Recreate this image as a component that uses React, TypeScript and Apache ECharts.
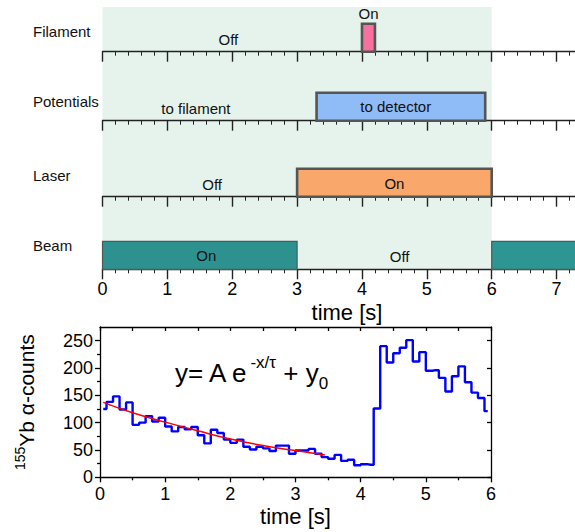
import React, { useEffect, useRef } from "react";
import * as echarts from "echarts";

const FONT = "'Liberation Sans', Arial, Helvetica, sans-serif";

// ---- Timing diagram data ----
const rowNames = ["Filament", "Potentials", "Laser", "Beam"];

const barRow = [0, 1, 2, 3, 3];
const barStart = [4.0, 3.3, 3.0, 0.0, 6.0];
const barEnd = [4.2, 5.9, 6.0, 3.0, 7.4];
const barColors = ["#f7709f", "#8fbbf6", "#f9a76b", "#2d928f", "#2d9693"];

const stateRow = [0, 0, 1, 1, 2, 2, 3, 3];
const stateText = ["Off", "On", "to filament", "to detector", "Off", "On", "On", "Off"];
const stateTime = [1.94, 4.1, 1.44, 4.52, 1.69, 4.5, 1.6, 4.58];
const stateLevel = [0.42, 1.35, 0.42, 0.52, 0.45, 0.48, 0.51, 0.475];

const activeWindow = [0, 6];

const timeTicks = [0, 1, 2, 3, 4, 5, 6, 7];
const timeMinorTicks = [
  0.2, 0.4, 0.6, 0.8, 1.2, 1.4, 1.6, 1.8, 2.2, 2.4, 2.6, 2.8, 3.2, 3.4, 3.6, 3.8,
  4.2, 4.4, 4.6, 4.8, 5.2, 5.4, 5.6, 5.8, 6.2, 6.4, 6.6, 6.8, 7.2,
];

// ---- Histogram data ----
const histTime = [
  0.05, 0.15, 0.25, 0.35, 0.45, 0.55, 0.65, 0.75, 0.85, 0.95,
  1.05, 1.15, 1.25, 1.35, 1.45, 1.55, 1.65, 1.75, 1.85, 1.95,
  2.05, 2.15, 2.25, 2.35, 2.45, 2.55, 2.65, 2.75, 2.85, 2.95,
  3.05, 3.15, 3.25, 3.35, 3.45, 3.55, 3.65, 3.75, 3.85, 3.95,
  4.05, 4.15, 4.25, 4.35, 4.45, 4.55, 4.65, 4.75, 4.85, 4.95,
  5.05, 5.15, 5.25, 5.35, 5.45, 5.55, 5.65, 5.75, 5.85, 5.95,
];
const histCounts = [
  125, 138, 148, 124, 137, 96, 100, 112, 102, 109,
  93, 84, 92, 88, 92, 77, 62, 87, 81, 69,
  63, 69, 56, 51, 56, 53, 48, 58, 58, 43,
  49, 49, 52, 43, 37, 34, 41, 30, 32, 22,
  24, 23, 126, 240, 210, 227, 237, 251, 212, 229,
  195, 196, 182, 157, 185, 203, 174, 155, 145, 121,
];
const fitTime = [0.05, 0.5, 1.0, 1.5, 2.0, 2.5, 3.0, 3.45];
const fitCounts = [137, 118, 101, 85, 70, 58, 49, 41];

const countTicks = [0, 50, 100, 150, 200, 250];
const countMinorTicks = [25, 75, 125, 175, 225];
const bottomTimeTicks = [0, 1, 2, 3, 4, 5, 6];
const bottomHalfTicks = [0.5, 1.5, 2.5, 3.5, 4.5, 5.5];
const bottomTopTicks = [0, 0.5, 1, 1.5, 2, 2.5, 3, 3.5, 4, 4.5, 5, 5.5, 6];

// ---- Layout ----
const ROW_AXIS_Y = [51.7, 120.7, 196.7, 269.3];
const ROW_H = 28;
const TOP_LEFT = 102.5;
const TOP_WIDTH = 575 - TOP_LEFT;
const TOP_MAX = 7.284;
const ROW_LABEL_Y = [31, 101, 175, 245.5];
const AXIS_C = "#222";

function buildOption() {
  const grids: any[] = [];
  rowNames.forEach((_, i) => {
    grids.push({ left: TOP_LEFT, width: TOP_WIDTH, top: ROW_AXIS_Y[i] - ROW_H, height: ROW_H, outerBoundsMode: "none" });
  });
  grids.push({ left: TOP_LEFT, width: TOP_WIDTH, top: 7, height: ROW_AXIS_Y[3] - 7, outerBoundsMode: "none" });
  grids.push({ left: 100, width: 391, top: 327, height: 150.3, outerBoundsMode: "none" });

  const xAxes: any[] = [];
  rowNames.forEach((_, i) => {
    xAxes.push({
      type: "value", gridIndex: i, position: "bottom", min: 0, max: TOP_MAX, interval: 1, z: 3,
      axisLine: { show: true, onZero: false, lineStyle: { color: AXIS_C, width: 1.4 } },
      axisTick: { show: true, customValues: timeTicks, length: 10, inside: false, lineStyle: { color: AXIS_C, width: 1.4 } },
      minorTick: { show: false },
      axisLabel: { show: i === 3, customValues: timeTicks, fontSize: 18, margin: 11, color: "#000", fontFamily: FONT },
      splitLine: { show: false },
    });
  });
  rowNames.forEach((_, i) => {
    xAxes.push({
      type: "value", gridIndex: i, position: "bottom", min: 0, max: TOP_MAX, interval: 1, z: 3,
      axisLine: { show: false },
      axisTick: { show: true, customValues: timeMinorTicks, length: 4, inside: false, lineStyle: { color: AXIS_C, width: 1 } },
      axisLabel: { show: false },
      splitLine: { show: false },
    });
  });
  xAxes.push({ type: "value", gridIndex: 4, min: 0, max: TOP_MAX, show: false, position: "bottom" });
  const lineStyle = { color: "#000", width: 1.3 };
  xAxes.push({
    type: "value", gridIndex: 5, position: "bottom", min: 0, max: 6, interval: 1, z: 3,
    axisLine: { show: true, onZero: false, lineStyle },
    axisTick: { show: true, customValues: bottomTimeTicks, length: 5, lineStyle },
    axisLabel: { show: true, customValues: bottomTimeTicks, fontSize: 18, margin: 8, color: "#000", fontFamily: FONT },
    splitLine: { show: false },
    name: "time [s]", nameLocation: "middle", nameGap: 28,
    nameTextStyle: { fontSize: 22, color: "#000", fontFamily: FONT },
  });
  xAxes.push({
    type: "value", gridIndex: 5, position: "bottom", min: 0, max: 6, interval: 1, z: 3,
    axisLine: { show: false },
    axisTick: { show: true, customValues: bottomHalfTicks, length: 3, lineStyle },
    axisLabel: { show: false }, splitLine: { show: false },
  });
  xAxes.push({
    type: "value", gridIndex: 5, position: "top", min: 0, max: 6, interval: 1, z: 3,
    axisLine: { show: true, onZero: false, lineStyle },
    axisTick: { show: true, inside: true, customValues: bottomTopTicks, length: 4, lineStyle },
    axisLabel: { show: false }, splitLine: { show: false },
  });

  const yAxes: any[] = [];
  rowNames.forEach((_, i) => {
    yAxes.push({ type: "value", gridIndex: i, min: 0, max: 1, show: false });
  });
  yAxes.push({ type: "value", gridIndex: 4, min: 0, max: 1, show: false });
  yAxes.push({
    type: "value", gridIndex: 5, position: "left", min: 0, max: 275, z: 3,
    axisLine: { show: true, onZero: false, lineStyle },
    axisTick: { show: true, customValues: countTicks, length: 5, lineStyle },
    axisLabel: { show: true, customValues: countTicks, fontSize: 18, margin: 7, color: "#000", fontFamily: FONT },
    splitLine: { show: false },
    name: "{sup|155}{m|Yb α-counts}",
    nameLocation: "middle",
    nameGap: 61,
    nameTextStyle: {
      fontFamily: FONT, color: "#000",
      rich: {
        sup: { fontSize: 14, fontFamily: FONT, color: "#000", verticalAlign: "top", lineHeight: 15 },
        m: { fontSize: 21, fontFamily: FONT, color: "#000", lineHeight: 26 },
      },
    },
  });
  yAxes.push({
    type: "value", gridIndex: 5, position: "left", min: 0, max: 275, z: 3,
    axisLine: { show: false },
    axisTick: { show: true, customValues: countMinorTicks, length: 3, lineStyle },
    axisLabel: { show: false }, splitLine: { show: false },
  });
  yAxes.push({
    type: "value", gridIndex: 5, position: "right", min: 0, max: 275, z: 3,
    axisLine: { show: true, onZero: false, lineStyle },
    axisTick: { show: true, inside: true, customValues: countTicks, length: 4, lineStyle },
    axisLabel: { show: false }, splitLine: { show: false },
  });

  const series: any[] = [];
  series.push({
    type: "custom", xAxisIndex: 8, yAxisIndex: 4, z: 1, silent: true,
    data: [[activeWindow[0], activeWindow[1]]],
    renderItem: (params: any, api: any) => {
      const p0 = api.coord([api.value(0), 1]);
      const p1 = api.coord([api.value(1), 0]);
      return { type: "rect", shape: { x: p0[0], y: p0[1], width: p1[0] - p0[0], height: p1[1] - p0[1] }, style: { fill: "#e5f3ec" } };
    },
  });
  rowNames.forEach((_, r) => {
    const bars: any[] = [];
    barRow.forEach((row, k) => {
      if (row === r) bars.push([barStart[k], barEnd[k], k]);
    });
    series.push({
      type: "custom", xAxisIndex: r, yAxisIndex: r, z: 4, silent: true, clip: false,
      data: bars,
      renderItem: (params: any, api: any) => {
        const k = api.value(2);
        const p0 = api.coord([api.value(0), 1]);
        const p1 = api.coord([api.value(1), 0]);
        const thin = barRow[k] === 3;
        return {
          type: "rect",
          shape: { x: p0[0], y: p0[1], width: p1[0] - p0[0], height: p1[1] - p0[1] },
          style: { fill: barColors[k], stroke: thin ? "#4d5a59" : "#555", lineWidth: thin ? 1.2 : 2.6 },
        };
      },
    });
    const labels: any[] = [];
    stateRow.forEach((row, k) => {
      if (row === r) labels.push([stateTime[k], stateLevel[k], k]);
    });
    series.push({
      type: "custom", xAxisIndex: r, yAxisIndex: r, z: 5, silent: true, clip: false,
      data: labels,
      renderItem: (params: any, api: any) => {
        const k = api.value(2);
        const p = api.coord([api.value(0), api.value(1)]);
        return {
          type: "text", x: p[0], y: p[1],
          style: {
            text: stateText[k], fill: "#111", fontSize: 15, fontFamily: FONT,
            align: "center", verticalAlign: "middle", textAlign: "center", textVerticalAlign: "middle",
          },
        };
      },
    });
  });
  series.push({
    type: "line", xAxisIndex: 9, yAxisIndex: 5, step: "middle", z: 5,
    symbol: "none", showSymbol: false,
    data: histTime.map((t, i) => [t, histCounts[i]]),
    lineStyle: { color: "#0000ff", width: 2.4 },
  });
  series.push({
    type: "line", xAxisIndex: 9, yAxisIndex: 5, smooth: true, z: 6,
    symbol: "none", showSymbol: false,
    data: fitTime.map((t, i) => [t, fitCounts[i]]),
    lineStyle: { color: "#ff0000", width: 1.5 },
  });

  const graphic: any[] = rowNames.map((name, i) => ({
    type: "text", x: 33, y: ROW_LABEL_Y[i], z: 10,
    style: { text: name, fill: "#111", fontSize: 15, fontFamily: FONT, verticalAlign: "middle", textVerticalAlign: "middle" },
  }));
  graphic.push({
    type: "text", x: 347, y: 312, z: 10,
    style: {
      text: "time [s]", fill: "#000", fontSize: 22, fontFamily: FONT,
      align: "center", verticalAlign: "middle", textAlign: "center", textVerticalAlign: "middle",
    },
  });
  graphic.push({
    type: "text", x: 175, y: 373, z: 10,
    style: {
      text: "{m|y= A e}{sup|-x/τ}{m| + y}{sub|0}",
      verticalAlign: "middle", textVerticalAlign: "middle",
      fill: "#000", fontFamily: FONT, fontSize: 26,
      rich: {
        m: { fontSize: 26, fontFamily: FONT, fill: "#000", lineHeight: 38 },
        sup: { fontSize: 17, fontFamily: FONT, fill: "#000", verticalAlign: "top", lineHeight: 18, padding: [0, 0, 0, 1] },
        sub: { fontSize: 17, fontFamily: FONT, fill: "#000", verticalAlign: "bottom", lineHeight: 18 },
      },
    },
  });

  return {
    animation: false,
    backgroundColor: "#fff",
    textStyle: { fontFamily: FONT },
    grid: grids,
    xAxis: xAxes,
    yAxis: yAxes,
    series,
    graphic,
  };
}

export default function App() {
  const ref = useRef<HTMLDivElement>(null);
  useEffect(() => {
    if (!ref.current) return;
    const chart = echarts.init(ref.current, undefined, { renderer: "svg" });
    chart.setOption(buildOption() as any);
    return () => chart.dispose();
  }, []);
  return (
    <div
      ref={ref}
      style={{ position: "absolute", left: 0, top: 0, width: 575, height: 532 }}
    />
  );
}
